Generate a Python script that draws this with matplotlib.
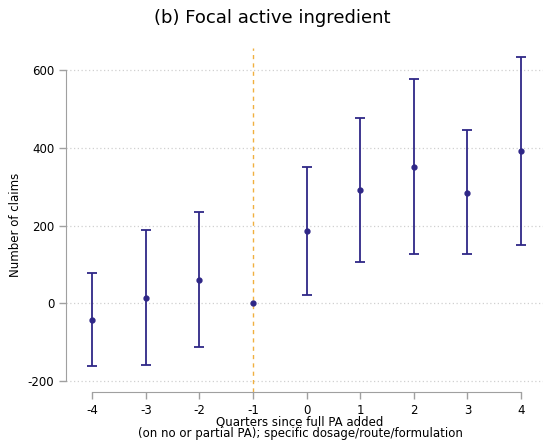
import matplotlib
matplotlib.use('Agg')
import matplotlib.pyplot as plt

plt.rcParams['axes.unicode_minus'] = False

# event-study coefficients
quarters = [-4, -3, -2, -1, 0, 1, 2, 3, 4]
coef = [-42, 15, 61, 0, 186, 292, 352, 284, 392]
ci_low = [-162, -158, -113, 0, 21, 107, 126, 126, 149]
ci_high = [78, 189, 235, 0, 351, 477, 577, 445, 635]
yticks = [-200, 0, 200, 400, 600]

navy = '#2f2787'
gray = '#a0a0a0'

fig = plt.figure(figsize=(5.45, 4.41), dpi=100)
W, H = 545, 441
# axes box in pixels: left 66, right 543, top 48, bottom 392
ax = fig.add_axes([66 / W, 1 - 392 / H, (543 - 66) / W, (392 - 48) / H])
ax.set_xlim(-4.49, 4.41)
ax.set_ylim(-228, 657)

for y in yticks:
    ax.axhline(y, color='#d0d0d0', lw=0.9, ls=(0, (1, 2)), zorder=0)

ax.axvline(-1, color='#f0b040', lw=1.0, ls=(0, (3, 3)), zorder=1)

# the reference period has no interval, so skip its error bar
idx = [i for i in range(len(quarters)) if ci_high[i] != ci_low[i]]
xs = [quarters[i] for i in idx]
lo = [coef[i] - ci_low[i] for i in idx]
hi = [ci_high[i] - coef[i] for i in idx]
ax.errorbar(xs, [coef[i] for i in idx], yerr=[lo, hi], fmt='none', ecolor=navy,
            elinewidth=1.3, capsize=3.5, capthick=1.3, zorder=3)
ax.plot(quarters, coef, 'o', color=navy, ms=3.5, zorder=4)

ax.spines['top'].set_visible(False)
ax.spines['right'].set_visible(False)
ax.spines['left'].set_color(gray)
ax.spines['bottom'].set_color(gray)
ax.spines['left'].set_bounds(-200, 600)
ax.spines['bottom'].set_bounds(-4, 4)

ax.set_yticks(yticks)
ax.set_xticks(quarters)
ax.tick_params(axis='both', colors=gray, labelcolor='black', labelsize=8.5, length=5, width=1)

fig.text(16 / W, 1 - 225 / H, 'Number of claims', rotation=90, ha='center', va='center', fontsize=8.5)
fig.text(300 / W, 1 - 422 / H, 'Quarters since full PA added', ha='center', va='center', fontsize=8.5)
fig.text(300 / W, 1 - 434 / H, '(on no or partial PA); specific dosage/route/formulation',
         ha='center', va='center', fontsize=8.5)
fig.text(0.5, 1 - 18 / H, '(b) Focal active ingredient', ha='center', va='center', fontsize=13)

fig.savefig('out.png', dpi=100)
